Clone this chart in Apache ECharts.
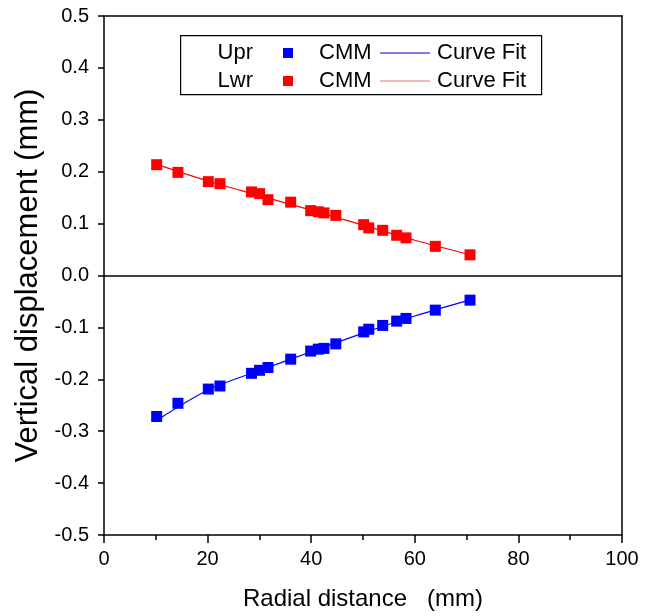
<!DOCTYPE html>
<html>
<head>
<meta charset="utf-8">
<script src="https://cdn.jsdelivr.net/npm/echarts@6/dist/echarts.min.js"></script>
<style>html,body{margin:0;padding:0;background:#fff}#c{width:653px;height:616px}</style>
</head>
<body>
<div id="c"></div>
<script>
// Radial distance (mm) of measurement points
const radialX = [10.17, 14.27, 20.14, 22.39, 28.47, 30.04, 31.66, 36.04, 39.9, 41.37, 42.47, 44.75, 50.13, 51.12, 53.8, 56.5, 58.3, 63.96, 70.66];
// Upper surface CMM measurements (mm)
const uprCMM = [-0.2717, -0.2462, -0.2188, -0.2129, -0.1885, -0.1827, -0.1773, -0.1612, -0.1456, -0.1419, -0.1404, -0.1317, -0.1087, -0.1035, -0.0962, -0.0879, -0.0827, -0.0667, -0.0475];
// Lower surface CMM measurements (mm)
const lwrCMM = [0.2135, 0.1987, 0.1808, 0.1769, 0.161, 0.1577, 0.146, 0.1413, 0.125, 0.1227, 0.1206, 0.1158, 0.098, 0.0917, 0.0871, 0.0775, 0.0725, 0.0562, 0.0398];
// Curve fit lines
const fitX = [10.2, 20, 30, 40, 50, 60, 70.7];
const uprFit = [-0.279, -0.221, -0.183, -0.147, -0.111, -0.078, -0.047];
const lwrFit = [0.214, 0.182, 0.154, 0.126, 0.097, 0.068, 0.040];
// Axis ticks
const xTicks = [0, 20, 40, 60, 80, 100];
const yTicks = [-0.5, -0.4, -0.3, -0.2, -0.1, 0.0, 0.1, 0.2, 0.3, 0.4, 0.5];

const pairs = (xs, ys) => xs.map((x, i) => [x, ys[i]]);
const FONT = 'Liberation Sans, Arial, sans-serif';
const chart = echarts.init(document.getElementById('c'), null, {renderer: 'canvas'});

const axisLineStyle = {color: '#000', width: 1.5};
chart.setOption({
  backgroundColor: '#fff',
  animation: false,
  grid: {left: 104, right: 31, top: 16, bottom: 80, containLabel: false},
  xAxis: [{
    type: 'value', min: xTicks[0], max: xTicks[xTicks.length - 1], interval: 20,
    position: 'bottom',
    name: 'Radial distance   (mm)', nameLocation: 'middle', nameGap: 52,
    nameTextStyle: {fontFamily: FONT, fontSize: 24, color: '#000'},
    axisLine: {show: true, onZero: false, lineStyle: axisLineStyle},
    axisTick: {show: true, inside: false, length: 8, lineStyle: axisLineStyle},
    minorTick: {show: true, splitNumber: 2, length: 5, lineStyle: {color: '#000', width: 1.5}},
    axisLabel: {fontFamily: FONT, fontSize: 20, color: '#000', margin: 14},
    splitLine: {show: false}
  }, {
    type: 'value', min: 0, max: 100, position: 'top',
    axisLine: {show: true, onZero: false, lineStyle: axisLineStyle},
    axisTick: {show: false}, axisLabel: {show: false}, splitLine: {show: false}
  }],
  yAxis: [{
    type: 'value', min: yTicks[0], max: yTicks[yTicks.length - 1], interval: 0.1,
    position: 'left',
    name: 'Vertical displacement (mm)', nameLocation: 'middle', nameGap: 58,
    nameTextStyle: {fontFamily: FONT, fontSize: 31, color: '#000'},
    axisLine: {show: true, onZero: false, lineStyle: axisLineStyle},
    axisTick: {show: true, inside: false, length: 6, lineStyle: axisLineStyle},
    axisLabel: {fontFamily: FONT, fontSize: 20, color: '#000', margin: 15,
      formatter: v => (Math.abs(v) < 1e-9 ? 0 : v).toFixed(1)},
    splitLine: {show: false}
  }, {
    type: 'value', min: -0.5, max: 0.5, position: 'right',
    axisLine: {show: true, onZero: false, lineStyle: axisLineStyle},
    axisTick: {show: false}, axisLabel: {show: false}, splitLine: {show: false}
  }],
  series: [
    {
      name: 'Upr Curve Fit', type: 'line', data: pairs(fitX, uprFit), smooth: 0.3,
      showSymbol: false, lineStyle: {color: '#0000ff', width: 1.2}, silent: true, z: 2,
      markLine: {silent: true, symbol: 'none', label: {show: false},
        lineStyle: {color: '#000', width: 1.5, type: 'solid'}, data: [{yAxis: 0}]}
    },
    {
      name: 'Lwr Curve Fit', type: 'line', data: pairs(fitX, lwrFit), smooth: 0.3,
      showSymbol: false, lineStyle: {color: '#ff0000', width: 1.2}, silent: true, z: 2
    },
    {
      name: 'Upr CMM', type: 'scatter', data: pairs(radialX, uprCMM), symbol: 'rect',
      symbolSize: 11, itemStyle: {color: '#0000ff', opacity: 1}, z: 3
    },
    {
      name: 'Lwr CMM', type: 'scatter', data: pairs(radialX, lwrCMM), symbol: 'rect',
      symbolSize: 11, itemStyle: {color: '#ff0000', opacity: 1}, z: 3
    }
  ],
  graphic: [
    {type: 'rect', left: 180, top: 35, shape: {width: 361, height: 59},
      style: {fill: '#fff', stroke: '#000', lineWidth: 1.2}, z: 10},
    {type: 'text', x: 253, y: 53, style: {text: 'Upr', font: '22px ' + FONT, fill: '#000', textAlign: 'right', textVerticalAlign: 'middle'}, z: 11},
    {type: 'rect', shape: {x: 283, y: 48, width: 10, height: 10}, style: {fill: '#0000ff'}, z: 11},
    {type: 'text', x: 319, y: 53, style: {text: 'CMM', font: '22px ' + FONT, fill: '#000', textAlign: 'left', textVerticalAlign: 'middle'}, z: 11},
    {type: 'line', shape: {x1: 380, y1: 53, x2: 430, y2: 53}, style: {stroke: '#0000cc', lineWidth: 1.2}, z: 11},
    {type: 'text', x: 437, y: 53, style: {text: 'Curve Fit', font: '22px ' + FONT, fill: '#000', textAlign: 'left', textVerticalAlign: 'middle'}, z: 11},
    {type: 'text', x: 253, y: 81, style: {text: 'Lwr', font: '22px ' + FONT, fill: '#000', textAlign: 'right', textVerticalAlign: 'middle'}, z: 11},
    {type: 'rect', shape: {x: 283, y: 76, width: 10, height: 10}, style: {fill: '#ff0000'}, z: 11},
    {type: 'text', x: 319, y: 81, style: {text: 'CMM', font: '22px ' + FONT, fill: '#000', textAlign: 'left', textVerticalAlign: 'middle'}, z: 11},
    {type: 'line', shape: {x1: 380, y1: 81, x2: 430, y2: 81}, style: {stroke: '#f07070', lineWidth: 1.2}, z: 11},
    {type: 'text', x: 437, y: 81, style: {text: 'Curve Fit', font: '22px ' + FONT, fill: '#000', textAlign: 'left', textVerticalAlign: 'middle'}, z: 11}
  ]
});
</script>
</body>
</html>
